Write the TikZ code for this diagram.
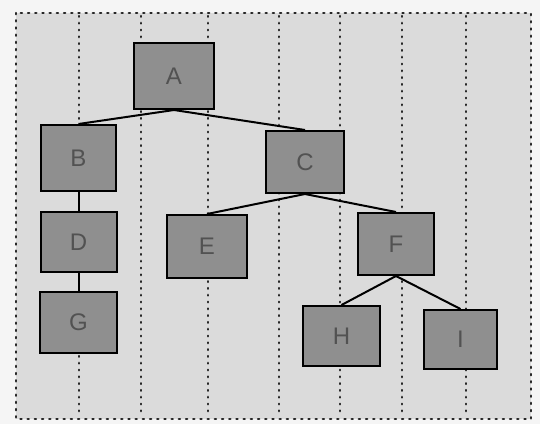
\documentclass[tikz,border=0pt]{standalone}
\usepackage{fontspec}
\setmainfont{Liberation Sans}
\begin{document}
\begin{tikzpicture}[x=1pt,y=-1pt,
  box/.style={draw=black, line width=2pt, fill=gray!88, text=black!68,
    font=\fontsize{24}{28}\selectfont, inner sep=0pt},
  grid/.style={line width=2.2pt, dash pattern=on 0.8pt off 6pt, line cap=round, black!85},
  frame/.style={line width=2.4pt, dash pattern=on 1.2pt off 6pt, line cap=round, black!85},
  edge/.style={line width=2pt, black}]
\useasboundingbox (0,0) rectangle (540,424);
\fill[gray!8] (0,0) rectangle (540,424);
\fill[gray!28] (16,13) rectangle (531,419);
\foreach \x in {79,141,208,279,340,402,466}
  \draw[grid] (\x,16) -- (\x,416);
\draw[frame] (16,13) rectangle (531,419);
\node[box, minimum width=80pt, minimum height=66pt] (A) at (174,76) {A};
\node[box, minimum width=75pt, minimum height=66pt] (B) at (78.5,158) {B};
\node[box, minimum width=78pt, minimum height=62pt] (C) at (305,162) {C};
\node[box, minimum width=76pt, minimum height=60pt] (D) at (78.5,242) {D};
\node[box, minimum width=80pt, minimum height=63pt] (E) at (207,246.5) {E};
\node[box, minimum width=76pt, minimum height=62pt] (F) at (396,244) {F};
\node[box, minimum width=77pt, minimum height=61pt] (G) at (78.5,322.5) {G};
\node[box, minimum width=77pt, minimum height=60pt] (H) at (341.5,336) {H};
\node[box, minimum width=73pt, minimum height=59pt] (I) at (460.5,339.5) {I};
\draw[edge] (A.south) -- (B.north);
\draw[edge] (A.south) -- (C.north);
\draw[edge] (B.south) -- (D.north);
\draw[edge] (D.south) -- (G.north);
\draw[edge] (C.south) -- (E.north);
\draw[edge] (C.south) -- (F.north);
\draw[edge] (F.south) -- (H.north);
\draw[edge] (F.south) -- (I.north);
\end{tikzpicture}
\end{document}
